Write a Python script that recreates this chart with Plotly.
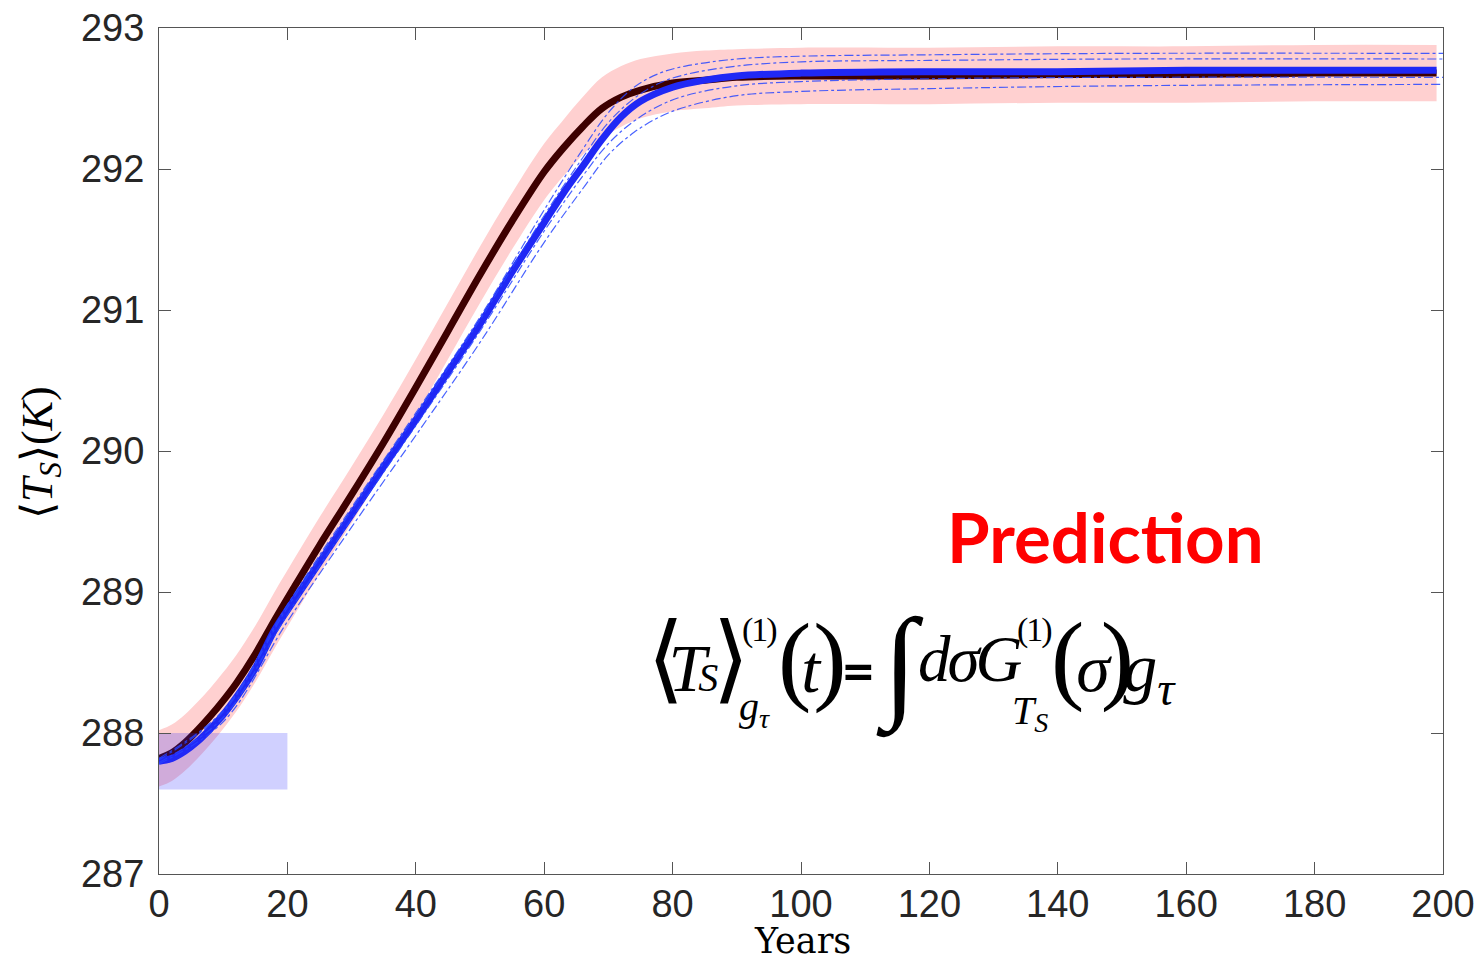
import plotly.graph_objects as go

# ---------------- data ----------------
years_obs = [0, 2, 4, 6, 8, 10, 12, 15, 18, 21, 25, 30, 35, 40, 45, 50, 55, 60, 63, 66, 69, 72, 75,
             80, 85, 90, 100, 120, 140, 160, 180, 199]
ts_observed = [287.82, 287.86, 287.93, 288.02, 288.12, 288.23, 288.35, 288.56, 288.80, 289.03, 289.33,
               289.69, 290.06, 290.45, 290.85, 291.25, 291.63, 291.98, 292.15, 292.30, 292.43, 292.51,
               292.56, 292.61, 292.63, 292.65, 292.66, 292.66, 292.67, 292.67, 292.68, 292.68]
spread_upper = [288.02, 288.06, 288.13, 288.22, 288.32, 288.43, 288.55, 288.76, 289.00, 289.23, 289.53,
                289.89, 290.26, 290.65, 291.05, 291.45, 291.83, 292.18, 292.35, 292.51, 292.65, 292.73,
                292.78, 292.82, 292.84, 292.85, 292.86, 292.86, 292.87, 292.87, 292.88, 292.88]
spread_lower = [287.62, 287.66, 287.73, 287.82, 287.92, 288.03, 288.15, 288.36, 288.60, 288.83, 289.13,
                289.49, 289.86, 290.25, 290.65, 291.05, 291.43, 291.78, 291.95, 292.10, 292.22, 292.30,
                292.36, 292.41, 292.43, 292.45, 292.46, 292.46, 292.47, 292.47, 292.48, 292.48]

years_pred = [0, 2, 4, 6, 8, 10, 12, 15, 18, 21, 25, 30, 35, 40, 45, 50, 55, 60, 63, 66, 69, 72, 75,
              80, 85, 90, 100, 120, 140, 160, 180, 199]
ts_predicted = [287.80, 287.82, 287.87, 287.94, 288.03, 288.13, 288.25, 288.46, 288.73, 288.94, 289.21,
                289.55, 289.89, 290.22, 290.56, 290.90, 291.27, 291.62, 291.83, 292.02, 292.21, 292.37,
                292.48, 292.58, 292.63, 292.66, 292.68, 292.69, 292.69, 292.70, 292.70, 292.70]

years_members = [0, 10, 20, 30, 40, 50, 60, 66, 70, 74, 78, 82, 90, 100, 120, 150, 200]
member_1 = [287.82, 288.16, 288.91, 289.60, 290.27, 290.95, 291.71, 292.14, 292.40, 292.58, 292.68,
            292.73, 292.78, 292.80, 292.81, 292.82, 292.82]
member_2 = [287.81, 288.15, 288.89, 289.58, 290.25, 290.93, 291.67, 292.08, 292.33, 292.50, 292.61,
            292.67, 292.73, 292.76, 292.77, 292.78, 292.78]
member_3 = [287.79, 288.11, 288.84, 289.52, 290.18, 290.85, 291.56, 291.95, 292.18, 292.34, 292.45,
            292.52, 292.59, 292.62, 292.64, 292.65, 292.65]
member_4 = [287.78, 288.08, 288.79, 289.46, 290.11, 290.77, 291.48, 291.86, 292.10, 292.26, 292.37,
            292.44, 292.52, 292.55, 292.57, 292.59, 292.60]

window_years = [0, 20]
window_temp = [287.6, 288.0]

x_ticks = [0, 20, 40, 60, 80, 100, 120, 140, 160, 180, 200]
y_ticks = [287, 288, 289, 290, 291, 292, 293]

# ---------------- geometry (page pixels; the page body adds an 8px margin) ----------------
PAGE_W, PAGE_H, OFF = 1484, 962, 8
W, H = PAGE_W - OFF, PAGE_H - OFF
L, R, T, B = 159, 1443, 28, 874   # plot area in page pixels

fig = go.Figure()

fig.add_trace(go.Scatter(x=years_obs, y=spread_lower, mode="lines", line=dict(width=0, shape="spline"),
                         showlegend=False, hoverinfo="skip"))
fig.add_trace(go.Scatter(x=years_obs, y=spread_upper, mode="lines", line=dict(width=0, shape="spline"),
                         fill="tonexty", fillcolor="rgb(255,208,208)", showlegend=False, hoverinfo="skip"))
fig.add_trace(go.Scatter(x=years_obs, y=ts_observed, mode="lines",
                         line=dict(color="rgb(62,0,0)", width=7, shape="spline"), showlegend=False))
fig.add_trace(go.Scatter(x=years_pred, y=ts_predicted, mode="lines",
                         line=dict(color="rgb(32,40,245)", width=7, shape="spline"), showlegend=False))
for m in (member_1, member_2, member_3, member_4):
    fig.add_trace(go.Scatter(x=years_members, y=m, mode="lines",
                             line=dict(color="rgba(40,70,255,0.85)", width=1.2, dash="dashdot", shape="spline"),
                             showlegend=False))
fig.add_trace(go.Scatter(x=[window_years[0], window_years[1], window_years[1], window_years[0], window_years[0]],
                         y=[window_temp[0], window_temp[0], window_temp[1], window_temp[1], window_temp[0]],
                         mode="lines", line=dict(width=0), fill="toself",
                         fillcolor="rgba(40,40,255,0.22)", showlegend=False, hoverinfo="skip"))


def xp(px):
    return (px - L) / (R - L)


def yp(py):
    return (B - py) / (B - T)


ann = []


def txt(text, xl, yc, size, family="Liberation Serif", color="black", xanchor="left", angle=0):
    ann.append(dict(text=text, x=xp(xl), y=yp(yc), xref="paper", yref="paper", xanchor=xanchor,
                    yanchor="middle", showarrow=False, textangle=angle, borderpad=0,
                    font=dict(size=size, family=family, color=color)))


def sp(t, size, fam=None, ls=None):
    st = ["font-size:%dpx" % size]
    if fam:
        st.append("font-family:%s" % fam)
    if ls is not None:
        st.append("letter-spacing:%dpx" % ls)
    return '<span style="%s">%s</span>' % (";".join(st), t)


BR = "DejaVu Sans"
# axis labels
txt("Years", 802, 941, 35, family="DejaVu Serif", xanchor="center")
txt("⟨<i>T<sub>S</sub></i>⟩(<i>K</i>)", 40, 453, 44, xanchor="center", angle=-90)

# Prediction label
txt("<b>Prediction</b>", 946, 536, 69, family="Lato", color="rgb(255,0,0)")

# equation  <T_S>^(1)_{g_tau}(t) = \int d sigma G^(1)_{T_S}(sigma) g_tau
seg1 = (sp("⟨", 96, BR, -16) + sp("<i>T</i>", 68, None, -8) + sp("<i>S</i>", 40, None, -6)
        + sp("⟩", 96, BR, -12))
txt(seg1, 646, 658, 68)
txt(sp("(1)", 34, None, -2), 741, 630, 34)
txt("<i>g<sub>τ</sub></i>", 738, 709, 40)
seg2a = (sp("(", 100, None, -10) + sp("<i>t</i>", 68, None, -7) + sp(")", 100, None, -5)
         + sp("<b>=</b>", 58, "Lato", -4))
txt(seg2a, 777, 658, 68)
txt("∫", 875, 666, 124)
txt(sp("<i>d</i>", 65, None, -3) + sp("<i>σ</i>", 65, None, -4) + sp("<i>G</i>", 65, None, -10),
    917, 659, 65)
txt(sp("(1)", 34, None, -2), 1016, 630, 34)
txt("<i>T<sub>S</sub></i>", 1011, 713, 40)
seg3 = (sp("(", 100, None, -8) + sp("<i>σ</i>", 68, None, -9) + sp(")", 100, None, -11)
        + "<i>g<sub>τ</sub></i>")
txt(seg3, 1050, 658, 68)

axis_common = dict(showline=True, linecolor="#555555", linewidth=1, mirror="ticks", ticks="inside",
                   ticklen=12, tickcolor="#555555", tickwidth=1, showgrid=False, zeroline=False,
                   ticklabeloverflow="allow", automargin=False,
                   tickfont=dict(family="Liberation Sans", size=38, color="#262626"))

fig.update_layout(
    width=W, height=H,
    margin=dict(l=L - OFF, r=W - (R - OFF), t=T - OFF, b=H - (B - OFF), pad=0, autoexpand=False),
    paper_bgcolor="white", plot_bgcolor="white",
    xaxis=dict(range=[0, 200], tickvals=x_ticks, ticktext=[str(v) for v in x_ticks],
               ticklabelstandoff=-4, **axis_common),
    yaxis=dict(range=[287, 293], tickvals=y_ticks, ticktext=[str(v) for v in y_ticks],
               ticklabelstandoff=6, **axis_common),
    annotations=ann,
    showlegend=False,
)

fig.write_html("out.html")
